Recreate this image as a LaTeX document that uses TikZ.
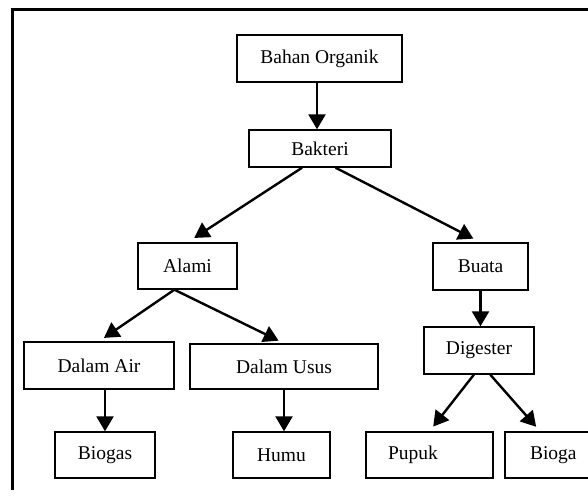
\documentclass[tikz,border=0pt]{standalone}
\usepackage{fontspec}
\setmainfont{Liberation Serif}
\usepackage{tikz}
\usetikzlibrary{arrows.meta, positioning}

\tikzset{
	kotak/.style={draw, line width=1.4pt, inner sep=0pt, font=\fontsize{19.5}{22}\selectfont},
	panah/.style={line width=2.4pt, -{Triangle[length=15pt,width=17pt]}}
}

\begin{document}
\begin{tikzpicture}[x=1pt, y=-1pt]
		\clip (0,0) rectangle (588,502);
		\draw[line width=3pt] (12,490) -- (12,10) -- (600,10);

		\draw (319.5,58.5) node[kotak, minimum width=165pt, minimum height=47pt] (bo) {Bahan Organik}
		(320,148.5) node[kotak, minimum width=142pt, minimum height=37pt] (bk) {Bakteri}
		(187.5,266) node[kotak, minimum width=99pt, minimum height=46pt] (al) {Alami}
		(480.5,266.5) node[kotak, minimum width=95pt, minimum height=47pt] (bu) {Buata}
		(479,350.5) node[kotak, minimum width=110pt, minimum height=47pt] (dg) {Digester}
		(99,365.5) node[kotak, minimum width=150pt, minimum height=47pt] (da) {Dalam Air}
		(284,366.5) node[kotak, minimum width=188pt, minimum height=45pt] (du) {Dalam Usus}
		(105,455) node[kotak, minimum width=100pt, minimum height=46pt] (bg) {Biogas}
		(281.5,455) node[kotak, minimum width=97pt, minimum height=46pt] (hm) {Humu}
		(429.5,455) node[kotak, minimum height=46pt, inner xsep=22pt, text width=83pt, align=left] (pp) {Pupuk}
		(560,455) node[kotak, minimum height=46pt, inner xsep=25pt, text width=60pt, align=left] (bi) {Bioga};

		\draw[panah] (bo.south -| 317,0) -- (bk.north -| 317,0);
		\draw[panah, shorten >=8pt] (bk.227) -- (al.north);
		\draw[panah, shorten >=8pt] (bk.309) -- (bu.north);
		\draw[panah, shorten >=6pt] (al.241) -- (da.north);
		\draw[panah, shorten >=6pt] (al.241) -- (du.north);
		\draw[panah] (bu) -- (bu |- dg.north);
		\draw[panah] (da.south -| bg) -- (bg);
		\draw[panah] (du) -- (du |- hm.north);
		\draw[panah, shorten >=6pt] (dg.258) -- (pp.north);
		\draw[panah, shorten >=6pt] (dg.295) -- (bi.130);
	\end{tikzpicture}
\end{document}
